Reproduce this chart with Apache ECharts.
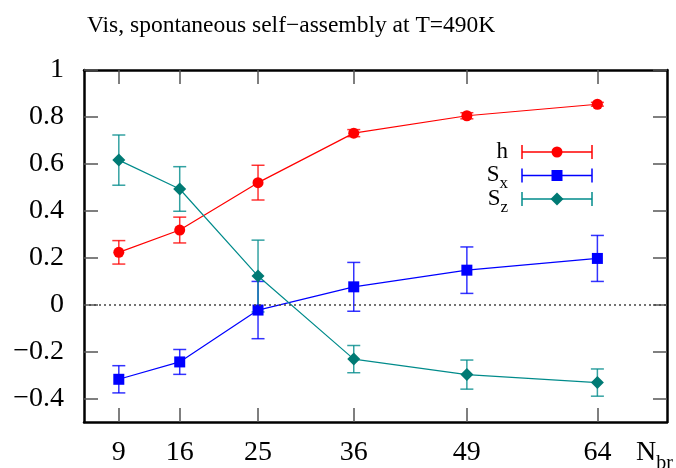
<!DOCTYPE html>
<html>
<head>
<meta charset="utf-8">
<script src="https://cdn.jsdelivr.net/npm/echarts@6/dist/echarts.min.js"></script>
<style>
  html, body { margin: 0; padding: 0; background: #fff; }
  #chart { width: 676px; height: 468px; }
</style>
</head>
<body>
<div id="chart"></div>
<script>
var chartDom = document.getElementById('chart')
var chart = echarts.init(chartDom)

// N_br values
var nbr = [9, 16, 25, 36, 49, 64]
var xTicks = [9, 16, 25, 36, 49, 64]
var yTicks = [-0.4, -0.2, 0, 0.2, 0.4, 0.6, 0.8, 1]

var hVal = [0.223, 0.318, 0.520, 0.731, 0.805, 0.854]
var hErr = [0.050, 0.055, 0.074, 0.015, 0.013, 0.008]
var sxVal = [-0.318, -0.244, -0.023, 0.076, 0.147, 0.197]
var sxErr = [0.058, 0.053, 0.122, 0.104, 0.099, 0.098]
var szVal = [0.616, 0.493, 0.122, -0.232, -0.298, -0.332]
var szErr = [0.107, 0.095, 0.153, 0.058, 0.062, 0.058]

var FONT = "'Liberation Serif', 'DejaVu Serif', serif"
var names = ['h', 'Sx', 'Sz']
var colors = ['#ff0000', '#0000ff', '#008b8b']
var markerColors = ['#ff0000', '#0000ff', '#007a74']
var symbols = ['circle', 'rect', 'diamond']
var symbolSizes = [11, 11, 13]
var vals = [hVal, sxVal, szVal]
var errs = [hErr, sxErr, szErr]

function pairs(v) {
    var out = []
    for (var i = 0; i < nbr.length; i++) out.push([nbr[i], v[i]])
    return out
}
function errData(v, e) {
    var out = []
    for (var i = 0; i < nbr.length; i++) out.push([nbr[i], v[i] - e[i], v[i] + e[i]])
    return out
}
function fmt(v) {
    var s = String(Math.round(v * 10) / 10)
    return s.replace('-', '\u2212')
}

var series = []
for (var k = 0; k < 3; k++) {
    (function (k) {
        series.push({
            type: 'custom',
            name: names[k] + '_err',
            data: errData(vals[k], errs[k]),
            z: 2,
            renderItem: function (params, api) {
                var lo = api.coord([api.value(0), api.value(1)])
                var hi = api.coord([api.value(0), api.value(2)])
                var w = 6.5
                var st = { stroke: colors[k], lineWidth: 1.5, opacity: 0.8 }
                return {
                    type: 'group',
                    children: [
                        { type: 'line', shape: { x1: lo[0], y1: lo[1], x2: hi[0], y2: hi[1] }, style: st },
                        { type: 'line', shape: { x1: lo[0] - w, y1: lo[1], x2: lo[0] + w, y2: lo[1] }, style: st },
                        { type: 'line', shape: { x1: hi[0] - w, y1: hi[1], x2: hi[0] + w, y2: hi[1] }, style: st }
                    ]
                }
            }
        })
        series.push({
            type: 'line',
            name: names[k],
            data: pairs(vals[k]),
            z: 3,
            symbol: symbols[k],
            symbolSize: symbolSizes[k],
            showAllSymbol: true,
            lineStyle: { color: colors[k], width: 1.2 },
            itemStyle: { color: markerColors[k] },
            emphasis: { disabled: true },
            markLine: k === 0 ? {
                silent: true,
                symbol: 'none',
                label: { show: false },
                lineStyle: { color: '#444', type: [2, 3], width: 1.5 },
                data: [{ yAxis: 0 }]
            } : undefined
        })
    })(k)
}

// legend drawn as gnuplot-style error bar keys
var legendText = ['{m|h}', '{m|S}{s|x}', '{m|S}{s|z}']
var legendGraphics = []
for (var j = 0; j < 3; j++) {
    var cy = 152 + j * 23.5
    var x1 = 522, x2 = 592, mx = (x1 + x2) / 2
    var st = { stroke: colors[j], lineWidth: 1.5 }
    var marker
    if (j === 0) marker = { type: 'circle', shape: { cx: mx, cy: cy, r: 5.5 }, style: { fill: markerColors[j] } }
    else if (j === 1) marker = { type: 'rect', shape: { x: mx - 5.5, y: cy - 5.5, width: 11, height: 11 }, style: { fill: markerColors[j] } }
    else marker = { type: 'polygon', shape: { points: [[mx, cy - 6.5], [mx + 6.5, cy], [mx, cy + 6.5], [mx - 6.5, cy]] }, style: { fill: markerColors[j] } }
    legendGraphics.push(
        { type: 'line', shape: { x1: x1, y1: cy, x2: x2, y2: cy }, style: st },
        { type: 'line', shape: { x1: x1, y1: cy - 7, x2: x1, y2: cy + 7 }, style: st },
        { type: 'line', shape: { x1: x2, y1: cy - 7, x2: x2, y2: cy + 7 }, style: st },
        marker,
        {
            type: 'text', x: 508, y: cy,
            style: {
                text: legendText[j], align: 'right', verticalAlign: 'middle',
                rich: {
                    m: { fontFamily: FONT, fontSize: 23, lineHeight: 24, verticalAlign: 'top', fill: '#000' },
                    s: { fontFamily: FONT, fontSize: 17, lineHeight: 17, padding: [12, 0, 0, 0], verticalAlign: 'top', fill: '#000' }
                }
            }
        }
    )
}

var tickStyle = { show: true, inside: true, length: 14, lineStyle: { color: '#555', width: 1.5 } }
var lineStyleAx = { show: true, onZero: false, lineStyle: { color: '#000', width: 2.5 } }

var option = {
    animation: false,
    title: {
        text: 'Vis, spontaneous self\u2212assembly at T=490K',
        left: 87, top: 14, padding: 0,
        textStyle: { fontFamily: FONT, fontSize: 23.5, fontWeight: 'normal', color: '#000' }
    },
    grid: { left: 84, right: 9, top: 70, bottom: 46, outerBoundsMode: 'none' },
    xAxis: [{
        type: 'value', min: 5, max: 72, position: 'bottom',
        axisLine: lineStyleAx,
        axisTick: Object.assign({ customValues: xTicks }, tickStyle),
        axisLabel: { customValues: xTicks, fontFamily: FONT, fontSize: 28, color: '#000', margin: 17 },
        splitLine: { show: false },
        name: '{n|N}{s|br}', nameLocation: 'end', nameGap: 6,
        nameTextStyle: {
            align: 'right', verticalAlign: 'top', padding: [17, 0, 0, 0],
            rich: {
                n: { fontFamily: FONT, fontSize: 28, lineHeight: 30, verticalAlign: 'top', color: '#000' },
                s: { fontFamily: FONT, fontSize: 20, lineHeight: 20, padding: [15, 0, 0, 0], verticalAlign: 'top', color: '#000' }
            }
        }
    }, {
        type: 'value', min: 5, max: 72, position: 'top',
        axisLine: lineStyleAx,
        axisTick: Object.assign({ customValues: xTicks }, tickStyle),
        axisLabel: { show: false },
        splitLine: { show: false }
    }],
    yAxis: [{
        type: 'value', min: -0.5, max: 1, position: 'left',
        axisLine: lineStyleAx,
        axisTick: Object.assign({ customValues: yTicks }, tickStyle),
        axisLabel: { customValues: yTicks, formatter: fmt, fontFamily: FONT, fontSize: 28, color: '#000', margin: 20 },
        splitLine: { show: false }
    }, {
        type: 'value', min: -0.5, max: 1, position: 'right',
        axisLine: lineStyleAx,
        axisTick: Object.assign({ customValues: yTicks }, tickStyle),
        axisLabel: { show: false },
        splitLine: { show: false }
    }],
    graphic: legendGraphics,
    series: series
}
chart.setOption(option)
</script>
</body>
</html>
